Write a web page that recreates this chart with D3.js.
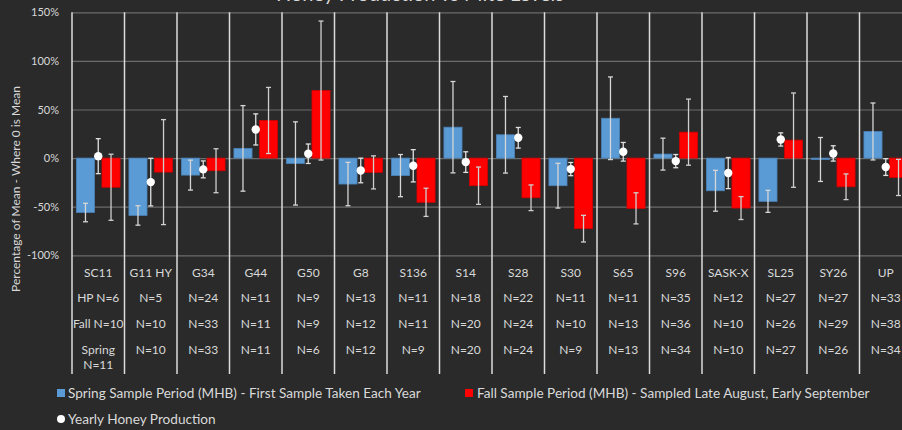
<!DOCTYPE html>
<html><head><meta charset="utf-8">
<script src="https://cdn.jsdelivr.net/npm/d3@7"></script>
<style>
html,body{margin:0;padding:0;background:#2a2a2a;overflow:hidden}
svg{display:block}
text{font-family:Lato,"Open Sans",sans-serif;fill:#d9d9d9}
</style></head><body>
<svg id="c" width="902" height="430"></svg>
<script>
const categories = ["SC11","G11 HY","G34","G44","G50","G8","S136","S14","S28","S30","S65","S96","SASK-X","SL25","SY26","UP"];
const springVals = [-56,-59,-17.5,10,-5.5,-26.7,-18,31.8,24,-28.4,41,4.1,-33.6,-44.5,-1.4,27.4];
const springErr  = [9.5,10,15.4,44,42.8,22.3,21.7,47,39.4,23,42.5,16.4,21,11.3,22.6,29.3];
const fallVals   = [-30,-14.4,-13,38.7,69.5,-14.7,-45.5,-28.4,-40.8,-72.6,-51.7,26.7,-51.4,18.5,-29.5,-19.9];
const fallErr    = [34,54,22.6,34,71.5,17,14.5,19.2,13.2,13.7,16,34,11.8,48.5,13.2,18.6];
const honeyVals  = [2,-24.7,-11.6,29.5,4.5,-12.7,-7.9,-4.1,20.9,-11.3,6.5,-3.1,-15.4,19.2,4.8,-9.2];
const honeyErr   = [18,24.5,8.7,16,10,12.7,16.6,10.6,10.6,6.8,9.6,6.8,16,6.8,7.9,8.6];
const hpN     = ["HP N=6","N=5","N=24","N=11","N=9","N=13","N=11","N=18","N=22","N=11","N=11","N=35","N=12","N=27","N=27","N=33"];
const fallN   = ["Fall N=10","N=10","N=33","N=11","N=9","N=12","N=11","N=20","N=24","N=10","N=13","N=36","N=10","N=26","N=29","N=38"];
const springN = [["Spring","N=11"],["N=10"],["N=33"],["N=11"],["N=6"],["N=12"],["N=9"],["N=20"],["N=24"],["N=9"],["N=13"],["N=34"],["N=10"],["N=27"],["N=26"],["N=34"]];
const yTicks = [-100,-50,0,50,100,150];
const legendLabels = ["Spring Sample Period (MHB) - First Sample Taken Each Year","Fall Sample Period (MHB) - Sampled Late August, Early September","Yearly Honey Production"];
const titleText = "Honey Production vs Mite Levels";
const yLabel = "Percentage of Mean - Where 0 is Mean";

const svg = d3.select("#c");
const left = 72, colW = 52.5;
const x = d3.scaleBand().domain(categories).range([left, left + categories.length*colW]).padding(0);
const sub = d3.scaleBand().domain(["spring","fall"]).range([0, x.bandwidth()]).paddingInner(0.291).paddingOuter(0.173);
const y = d3.scaleLinear().domain([-100,150]).range([255.3,12.3]);
const tableBottom = 374;

// title (cut off at top, as in the reference)
svg.append("text").attr("x",276).attr("y",0.5).attr("font-size",20).attr("fill","#cfcfcf").text(titleText);

// horizontal gridlines
const grid = svg.append("g").attr("transform",`translate(${left},0)`)
  .call(d3.axisLeft(y).tickValues(yTicks).tickSize(-(902-left)).tickFormat(""));
grid.select(".domain").remove();
grid.selectAll("line").attr("stroke","#6b6b6b").attr("stroke-width",1.2);

// y axis labels
const ya = svg.append("g").attr("transform",`translate(${left},0)`)
  .call(d3.axisLeft(y).tickValues(yTicks).tickSize(0).tickPadding(13).tickFormat(d=>d+"%"));
ya.select(".domain").remove();
ya.selectAll("text").attr("font-size",11).attr("fill","#d9d9d9").attr("font-family","Lato,sans-serif");

// vertical category lines
const bounds = categories.map(c=>x(c)).concat([x.range()[1]]);
svg.append("g").selectAll("line").data(bounds).join("line")
  .attr("x1",d=>d).attr("x2",d=>d).attr("y1",y(150)).attr("y2",tableBottom)
  .attr("stroke","#dcdcdc").attr("stroke-width",1.5);

const idx = d3.range(categories.length);
// bars
function bars(vals, key, color, stroke){
  svg.append("g").selectAll("rect").data(idx).join("rect")
    .attr("x",i=>x(categories[i])+sub(key))
    .attr("width",sub.bandwidth())
    .attr("y",i=>y(Math.max(0,vals[i])))
    .attr("height",i=>Math.abs(y(vals[i])-y(0)))
    .attr("fill",color).attr("stroke",stroke).attr("stroke-width",0.8);
}
bars(springVals,"spring","#5b9bd5","#4a82b8");
bars(fallVals,"fall","#ff0000","#d00000");

function errs(vals, err, cx, color){
  const g = svg.append("g").attr("stroke",color).attr("stroke-width",1.3);
  idx.forEach(i=>{
    const xc = cx(i), y1 = y(vals[i]+err[i]), y2 = y(vals[i]-err[i]);
    g.append("line").attr("x1",xc).attr("x2",xc).attr("y1",y1).attr("y2",y2);
    g.append("line").attr("x1",xc-2.5).attr("x2",xc+2.5).attr("y1",y1).attr("y2",y1);
    g.append("line").attr("x1",xc-2.5).attr("x2",xc+2.5).attr("y1",y2).attr("y2",y2);
  });
}
errs(springVals, springErr, i=>x(categories[i])+sub("spring")+sub.bandwidth()/2, "#d6d6d6");
errs(fallVals, fallErr, i=>x(categories[i])+sub("fall")+sub.bandwidth()/2, "#cfcfcf");
errs(honeyVals, honeyErr, i=>x(categories[i])+x.bandwidth()/2, "#e0e0e0");

// honey dots
svg.append("g").selectAll("circle").data(idx).join("circle")
  .attr("cx",i=>x(categories[i])+x.bandwidth()/2).attr("cy",i=>y(honeyVals[i]))
  .attr("r",4.2).attr("fill","#ffffff");

// table
const tbl = svg.append("g").attr("font-size",12).attr("text-anchor","middle");
const rowY = [276.5, 302, 328, 354];
idx.forEach(i=>{
  const cx = x(categories[i]) + x.bandwidth()/2;
  tbl.append("text").attr("x",cx).attr("y",rowY[0]).text(categories[i]);
  tbl.append("text").attr("x",cx).attr("y",rowY[1]).text(hpN[i]);
  tbl.append("text").attr("x",cx).attr("y",rowY[2]).text(fallN[i]);
  springN[i].forEach((t,j)=>tbl.append("text").attr("x",cx).attr("y",rowY[3]+j*15).text(t));
});

// y label
svg.append("text").attr("transform","translate(20,189) rotate(-90)")
  .attr("text-anchor","middle").attr("font-size",12).text(yLabel);

// legend
const lg = svg.append("g").attr("font-size",13.6);
lg.append("rect").attr("x",57).attr("y",389).attr("width",8).attr("height",8).attr("fill","#5b9bd5");
lg.append("text").attr("x",68).attr("y",397.5).text(legendLabels[0]);
lg.append("rect").attr("x",465).attr("y",389).attr("width",8).attr("height",8).attr("fill","#ff0000");
lg.append("text").attr("x",477).attr("y",397.5).text(legendLabels[1]);
lg.append("circle").attr("cx",61).attr("cy",419).attr("r",4).attr("fill","#ffffff");
lg.append("text").attr("x",68).attr("y",423.5).text(legendLabels[2]);
</script></body></html>
